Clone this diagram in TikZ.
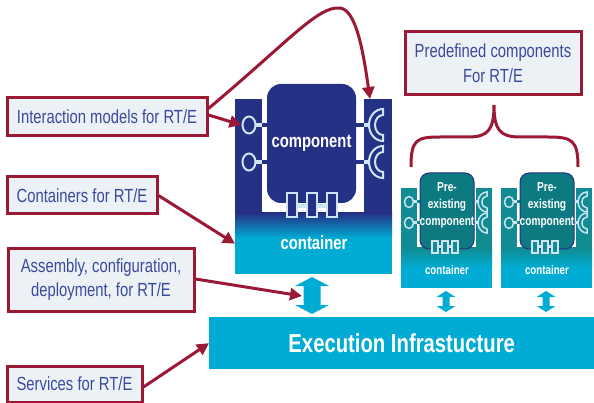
\documentclass[tikz,border=0pt]{standalone}
\usepackage{fontspec}
\setmainfont{Liberation Sans}[FakeStretch=0.78]
\usepackage{tikz}
\usetikzlibrary{arrows.meta,calc,shapes.geometric}

\definecolor{navy}{RGB}{37,49,133}
\definecolor{cyanbar}{RGB}{0,172,212}
\definecolor{tealcol}{RGB}{16,140,146}
\definecolor{tealcomp}{RGB}{12,122,128}
\definecolor{portblue}{RGB}{205,228,242}
\definecolor{notered}{RGB}{155,25,52}
\definecolor{notefill}{RGB}{236,241,246}
\definecolor{notetext}{RGB}{58,74,156}

\tikzset{
  note/.style = {draw=notered, line width=3pt, fill=notefill, text=notetext, inner sep=0pt,
                 align=center, font=\fontsize{19}{24}\selectfont},
  link/.style = {->, draw=notered, line width=3pt},
  port/.style = {draw=portblue, line width=2pt},
  wtext/.style = {text=white, font=\bfseries\fontsize{19}{22}\selectfont},
}

\begin{document}
\begin{tikzpicture}[x=1pt, y=-1pt, > = {Triangle[length=12pt, width=12pt]}]
  \useasboundingbox (0,0) rectangle (594,403);

  % notes
  \node[note, minimum width=200, minimum height=38] (interact) at (107,117) {Interaction models for RT/E};
  \node[note, minimum width=150, minimum height=37] (contain) at (82,195.5) {Containers for RT/E};
  \node[note, minimum width=186, minimum height=62] (assembly) at (101,280) {Assembly, configuration,\\deployment, for RT/E};
  \node[note, minimum width=135, minimum height=36] (services) at (74.5,384) {Services for RT/E};
  \node[note, minimum width=176, minimum height=63, font=\fontsize{19}{25}\selectfont] (predef) at (493,63.5) {Predefined components\\For RT/E};

  % main container
  \fill[navy] (235,99) rectangle (262,213);
  \node[fill=navy, inner sep=0pt, minimum width=28, minimum height=114, anchor=north west] (colR) at (364,99) {};
  \node[fill=cyanbar, inner sep=0pt, minimum width=157, minimum height=61, anchor=north west] (cont) at (235,213) {};
  \shade[top color=navy, bottom color=cyanbar] (235,213) rectangle (392,238);
  \node[wtext] (contlbl) at (314,243) {container};
  \node[fill=navy, rounded corners=14pt, inner sep=0pt, minimum width=89, minimum height=119, wtext] (comp) at (311.5,143.5) {component};

  % ports
  \foreach \py [count=\i] in {125,162} {
    \draw[portblue, line width=4pt] (255,\py) -- (262,\py);
    \draw[navy, line width=4pt] (262,\py) -- (267,\py);
    \node[port, fill=navy, ellipse, inner sep=0pt, minimum width=13, minimum height=17] (pin\i) at (249,\py) {};
    \draw[navy, line width=4pt] (356,\py) -- (364,\py);
    \draw[portblue, line width=4pt] (364,\py) -- (372,\py);
    \draw[port, fill=navy] (383,\py+16) arc[start angle=90, end angle=270, x radius=14, y radius=16]
      -- (383,\py-10) arc[start angle=270, end angle=90, x radius=8, y radius=10] -- cycle;
  }
  \draw[portblue, line width=4pt] (292,206) -- (332,206);
  \foreach \px in {292,312,332} \draw[port, fill=navy] (\px-5,193) rectangle (\px+5,217);

  % main double arrow
  \fill[cyanbar] (312,277) -- (329,286) -- (320.5,286) -- (320.5,305) -- (329,305) -- (312,314)
    -- (295,305) -- (303.5,305) -- (303.5,286) -- (295,286) -- cycle;
  \coordinate (darr-w) at (302,296);

  % pre-existing components
  \foreach \dx/\nm in {0/pa, 100/pb} {
    \begin{scope}[xshift=\dx pt]
      \fill[tealcol] (401,188) rectangle (417,248);
      \fill[tealcol] (476,188) rectangle (492,248);
      \node[fill=cyanbar, inner sep=0pt, minimum width=91, minimum height=40, anchor=north west] (\nm-cont) at (401,248) {};
      \shade[top color=tealcol, bottom color=cyanbar] (401,248) rectangle (492,268);
      \node[text=white, font=\bfseries\fontsize{12.5}{14}\selectfont] (\nm-lbl) at (447,270) {container};
      \foreach \py in {202,223} {
        \draw[portblue, line width=3pt] (412,\py) -- (417,\py);
        \draw[tealcol, line width=3pt] (417,\py) -- (420,\py);
        \draw[portblue, line width=1.5pt, fill=tealcol] (409,\py) ellipse (4.5 and 5.5);
        \draw[portblue, line width=3pt] (474,\py) -- (480,\py);
        \draw[portblue, line width=1.5pt, fill=tealcol] (487,\py+10) arc[start angle=90, end angle=270, x radius=9, y radius=10]
          -- (487,\py-6) arc[start angle=270, end angle=90, x radius=5, y radius=6] -- cycle;
      }
      \node[fill=tealcomp, draw=navy, line width=1pt, rounded corners=9pt, inner sep=0pt,
            minimum width=54, minimum height=76] (\nm-comp) at (447,211) {};
      \node[text=white, align=center, font=\bfseries\fontsize{13}{17}\selectfont] (\nm-txt) at (447,205) {Pre-\\existing\\component};
      \draw[portblue, line width=3pt] (435,247) -- (455,247);
      \foreach \px in {435,445,455} \draw[portblue, line width=1.5pt, fill=tealcol] (\px-3,241) rectangle (\px+3,253);
      \fill[cyanbar] (446,291) -- (455.5,297) -- (449.5,297) -- (449.5,306) -- (455.5,306) -- (446,312)
        -- (436.5,306) -- (442.5,306) -- (442.5,297) -- (436.5,297) -- cycle;
    \end{scope}
  }

  % execution bar
  \node[fill=cyanbar, inner sep=0pt, minimum width=385, minimum height=52, anchor=north west,
        text=white, font=\bfseries\fontsize{26}{30}\selectfont] (exec) at (209,317) {Execution Infrastucture};

  % brace
  \draw[notered, line width=3pt] (411,167) .. controls (411,140) and (416,137) .. (440,137) -- (468,137)
    .. controls (488,137) and (494,130) .. (494,105) .. controls (494,130) and (500,137) .. (520,137)
    -- (548,137) .. controls (572,137) and (578,140) .. (578,167);

  % links
  \draw[link] ($(interact.north east)+(0,12)$) .. controls (290,40) and (318,6) .. (340,8)
    .. controls (356,10) and (363,50) .. ($(colR.north west)+(6,0)$);
  \draw[link] ($(interact.east)+(0,-2)$) -- (pin1.west);
  \draw[link] (contain.east) -- (cont.west);
  \draw[link] ($(assembly.east)+(0,-1)$) -- (darr-w);
  \draw[link] ($(services.east)+(0,3)$) -- (exec.west);
\end{tikzpicture}
\end{document}
